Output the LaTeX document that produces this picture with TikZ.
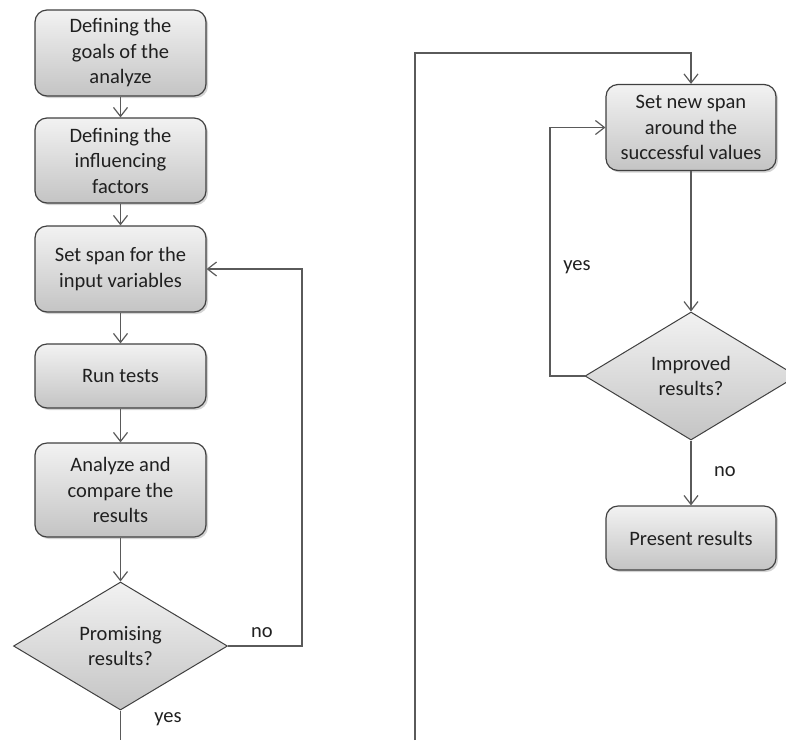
\documentclass[tikz,border=0pt]{standalone}
\usepackage{fontspec}
\setmainfont{Carlito}
\usetikzlibrary{shapes.geometric,arrows.meta,shadows}

\definecolor{edgecol}{HTML}{404040}
\definecolor{linecol}{HTML}{5A5A5A}
\definecolor{fillhi}{HTML}{F2F2F2}
\definecolor{filllo}{HTML}{C4C4C4}
\definecolor{txt}{HTML}{202020}

\tikzset{
  stepbox/.style={rectangle, rounded corners=12pt, draw=edgecol, line width=1.2pt,
    top color=fillhi, bottom color=filllo, shading angle=0,
    drop shadow={shadow xshift=2pt, shadow yshift=-2pt, opacity=0.35, fill=gray},
    minimum width=171pt, align=center, text=txt, inner sep=2pt,
    font=\fontsize{20.5}{25.5}\selectfont},
  decision/.style={diamond, draw=edgecol, line width=1pt,
    top color=fillhi, bottom color=filllo,
    minimum width=214pt, minimum height=128pt, aspect=1.67, inner sep=0pt,
    align=center, text=txt, font=\fontsize{20.5}{25.5}\selectfont},
  flow/.style={draw=linecol, line width=1.3pt,
    -{Straight Barb[length=9pt,width=14pt,line width=1.2pt]}},
  plain/.style={draw=linecol, line width=1.3pt},
  lbl/.style={text=txt, font=\fontsize{20.5}{25.5}\selectfont, inner sep=0pt}
}

\begin{document}
\begin{tikzpicture}[x=1pt, y=-1pt]
  \useasboundingbox (0,0) rectangle (786,740);

  % left column
  \node[stepbox, minimum height=86pt] (b1) at (120.5,53) {Defining the\\goals of the\\analyze};
  \node[stepbox, minimum height=85pt] (b2) at (120.5,160.5) {Defining the\\influencing\\factors};
  \node[stepbox, minimum height=86pt] (b3) at (120.5,269) {Set span for the\\input variables};
  \node[stepbox, minimum height=64pt] (b4) at (120.5,376) {Run tests};
  \node[stepbox, minimum height=94pt] (b5) at (120.5,490) {Analyze and\\compare the\\results};
  \node[decision] (d1) at (120.5,646) {Promising\\results?};

  % right column
  \node[stepbox, minimum width=170pt, minimum height=86pt] (b6) at (691,127.5) {Set new span\\around the\\successful values};
  \node[decision, minimum width=212pt] (d2) at (691,376) {Improved\\results?};
  \node[stepbox, minimum width=170pt, minimum height=64pt] (b7) at (691,538) {Present results};

  % free ends and corners
  \coordinate (loopL) at (302,269);
  \coordinate (outL) at (120.5,740);
  \coordinate (inR) at (415,740);
  \coordinate (turnR) at (415,53);
  \coordinate (loopR) at (550,127.5);

  % connectors
  \draw[flow] (b1) -- (b2);
  \draw[flow] (b2) -- (b3);
  \draw[flow] (b3) -- (b4);
  \draw[flow] (b4) -- (b5);
  \draw[flow] (b5) -- (d1);
  \draw[flow] (d1.east) -| (loopL) -- (b3.east);
  \draw[plain] (d1.south) -- (outL);
  \draw[flow] (inR) -- (turnR) -| (b6.north);
  \draw[flow] (b6) -- (d2);
  \draw[flow] (d2.west) -| (loopR) -- (b6.west);
  \draw[flow] (d2) -- (b7);

  % branch labels
  \node[lbl] (no1) at (262,633) {no};
  \node[lbl] (yes1) at (168,719) {yes};
  \node[lbl] (yes2) at (577,267) {yes};
  \node[lbl] (no2) at (725,472) {no};
\end{tikzpicture}
\end{document}
